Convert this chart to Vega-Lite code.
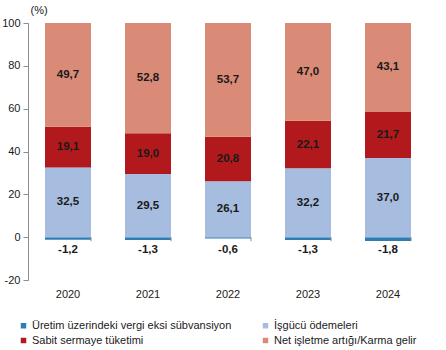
{
  "$schema": "https://vega.github.io/schema/vega-lite/v6.json",
  "width": 400,
  "height": 257,
  "autosize": {"type": "none"},
  "padding": {"left": 28, "top": 23, "right": 18, "bottom": 70},
  "background": "white",
  "config": {
    "view": {"stroke": null},
    "font": "Liberation Sans",
    "axis": {"labelFont": "Liberation Sans", "labelFontSize": 11, "labelColor": "#1a1a1a", "grid": false}
  },
  "data": {
    "values": [
      {"year": "2020", "series": "Üretim üzerindeki vergi eksi sübvansiyon", "value": -1.2, "order": 0},
      {"year": "2020", "series": "İşgücü ödemeleri", "value": 32.5, "order": 1},
      {"year": "2020", "series": "Sabit sermaye tüketimi", "value": 19.1, "order": 2},
      {"year": "2020", "series": "Net işletme artığı/Karma gelir", "value": 49.7, "order": 3},
      {"year": "2021", "series": "Üretim üzerindeki vergi eksi sübvansiyon", "value": -1.3, "order": 0},
      {"year": "2021", "series": "İşgücü ödemeleri", "value": 29.5, "order": 1},
      {"year": "2021", "series": "Sabit sermaye tüketimi", "value": 19.0, "order": 2},
      {"year": "2021", "series": "Net işletme artığı/Karma gelir", "value": 52.8, "order": 3},
      {"year": "2022", "series": "Üretim üzerindeki vergi eksi sübvansiyon", "value": -0.6, "order": 0},
      {"year": "2022", "series": "İşgücü ödemeleri", "value": 26.1, "order": 1},
      {"year": "2022", "series": "Sabit sermaye tüketimi", "value": 20.8, "order": 2},
      {"year": "2022", "series": "Net işletme artığı/Karma gelir", "value": 53.7, "order": 3},
      {"year": "2023", "series": "Üretim üzerindeki vergi eksi sübvansiyon", "value": -1.3, "order": 0},
      {"year": "2023", "series": "İşgücü ödemeleri", "value": 32.2, "order": 1},
      {"year": "2023", "series": "Sabit sermaye tüketimi", "value": 22.1, "order": 2},
      {"year": "2023", "series": "Net işletme artığı/Karma gelir", "value": 47.0, "order": 3},
      {"year": "2024", "series": "Üretim üzerindeki vergi eksi sübvansiyon", "value": -1.8, "order": 0},
      {"year": "2024", "series": "İşgücü ödemeleri", "value": 37.0, "order": 1},
      {"year": "2024", "series": "Sabit sermaye tüketimi", "value": 21.7, "order": 2},
      {"year": "2024", "series": "Net işletme artığı/Karma gelir", "value": 43.1, "order": 3}
    ]
  },
  "transform": [
    {"stack": "value", "groupby": ["year"], "sort": [{"field": "order"}], "as": ["y0", "y1"]},
    {"calculate": "(datum.y0 + min(datum.y1, 100)) / 2", "as": "mid"},
    {"calculate": "replace(replace(format(datum.value, '.1f'), '.', ','), '\u2212', '-')", "as": "label"}
  ],
  "encoding": {
    "x": {
      "field": "year", "type": "nominal",
      "scale": {"paddingInner": 0.425, "paddingOuter": 0.2125},
      "axis": {"title": null, "labelAngle": 0, "domain": false, "ticks": false, "labelPadding": 8, "labelFontSize": 11}
    }
  },
  "layer": [
    {
      "mark": {"type": "bar", "clip": true},
      "encoding": {
        "y": {
          "field": "y0", "type": "quantitative",
          "scale": {"domain": [-20, 100], "nice": false},
          "axis": {
            "values": [-20, 0, 20, 40, 60, 80, 100],
            "labelExpr": "replace(datum.label, '\u2212', '-')",
            "title": "(%)", "titleAngle": 0, "titleAlign": "left", "titleBaseline": "bottom",
            "titleX": 2, "titleY": -8, "titleFontWeight": "normal", "titleFontSize": 11, "titleColor": "#1a1a1a",
            "domainColor": "#8c8c8c", "tickColor": "#8c8c8c", "tickSize": 5, "labelPadding": 3
          }
        },
        "y2": {"field": "y1"},
        "color": {
          "field": "series", "type": "nominal",
          "scale": {
            "domain": ["Üretim üzerindeki vergi eksi sübvansiyon", "İşgücü ödemeleri", "Sabit sermaye tüketimi", "Net işletme artığı/Karma gelir"],
            "range": ["#2E7CB4", "#A6BDDF", "#B2191C", "#D98B77"]
          },
          "legend": {
            "title": null, "orient": "none", "legendX": -10, "legendY": 297, "columns": 2,
            "direction": "horizontal",
            "symbolType": "square", "symbolSize": 30, "symbolStrokeWidth": 0,
            "labelFont": "Liberation Sans", "labelFontSize": 11, "labelColor": "#1a1a1a",
            "columnPadding": 28, "rowPadding": 3, "labelOffset": 3, "labelLimit": 300
          }
        },
        "order": {"field": "order"}
      }
    },
    {
      "transform": [{"filter": "datum.value > 0"}],
      "mark": {"type": "text", "fontWeight": "bold", "fontSize": 11.5, "color": "#1a1a1a", "baseline": "middle"},
      "encoding": {
        "y": {"field": "mid", "type": "quantitative"},
        "text": {"field": "label"}
      }
    },
    {
      "transform": [{"filter": "datum.value < 0"}],
      "mark": {"type": "text", "fontWeight": "bold", "fontSize": 11.5, "color": "#1a1a1a", "baseline": "middle", "dy": 13},
      "encoding": {
        "y": {"datum": 0, "type": "quantitative"},
        "text": {"field": "label"}
      }
    },
    {
      "mark": {"type": "rule", "color": "#8c8c8c"},
      "encoding": {
        "y": {"datum": 0, "type": "quantitative"}
      }
    },
    {
      "transform": [{"filter": "datum.order == 0"}],
      "mark": {"type": "rule", "color": "#8c8c8c"},
      "encoding": {
        "x": {"field": "year", "type": "nominal", "bandPosition": 1},
        "y": {"datum": 0, "type": "quantitative"},
        "y2": {"datum": -1.9}
      }
    }
  ]
}
